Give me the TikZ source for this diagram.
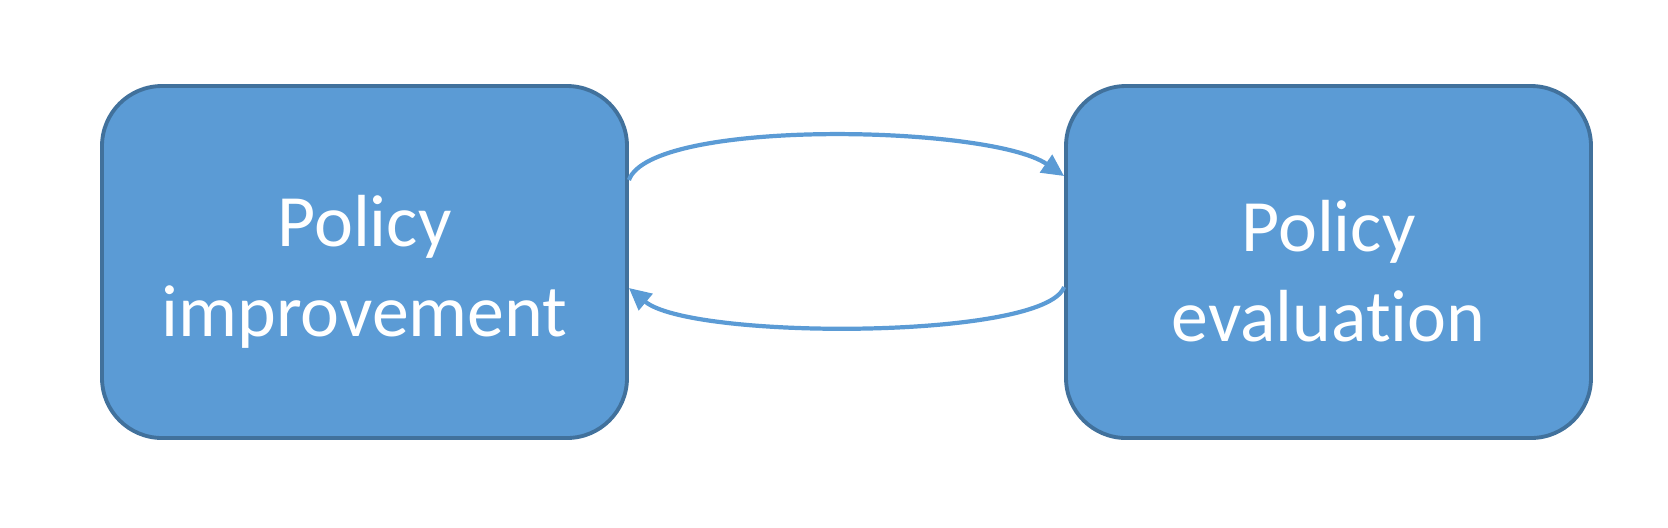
\documentclass[tikz,border=0pt]{standalone}
\usepackage{fontspec}
\setmainfont{Carlito}[Ligatures=NoCommon]
\usetikzlibrary{arrows.meta,positioning}
\definecolor{boxfill}{HTML}{5B9BD5}
\definecolor{boxline}{HTML}{41719C}
\newcommand{\topstrut}{\rule{0pt}{0.7cm}}
\begin{document}
\begin{tikzpicture}[-{Triangle[length=0.22cm,width=0.21cm]}, node distance=9.64cm,
    main node/.style={rectangle, rounded corners=0.6cm, draw=boxline, line width=1.1pt, fill=boxfill,
      minimum width=5.25cm, minimum height=3.52cm, align=center, text=white,
      font=\fontsize{21}{25.6}\selectfont}]
    \useasboundingbox (0,0) rectangle (16.68,-5.27);

      \node[main node] (imp) at (3.645,-2.62) {\topstrut Policy\\improvement};
      \node[main node] (eval) [right of=imp] {\topstrut Policy\\evaluation};

      \draw[boxfill, line width=1.2pt] ([yshift=0.82cm]imp.east) ..
          controls +(0.22,0.62) and +(-0.74,0.51) .. ([yshift=0.86cm]eval.west);
      \draw[boxfill, line width=1.2pt] ([yshift=-0.25cm]eval.west) ..
          controls +(-0.19,-0.53) and +(0.62,-0.52) .. ([yshift=-0.26cm]imp.east);

    \end{tikzpicture}
\end{document}
